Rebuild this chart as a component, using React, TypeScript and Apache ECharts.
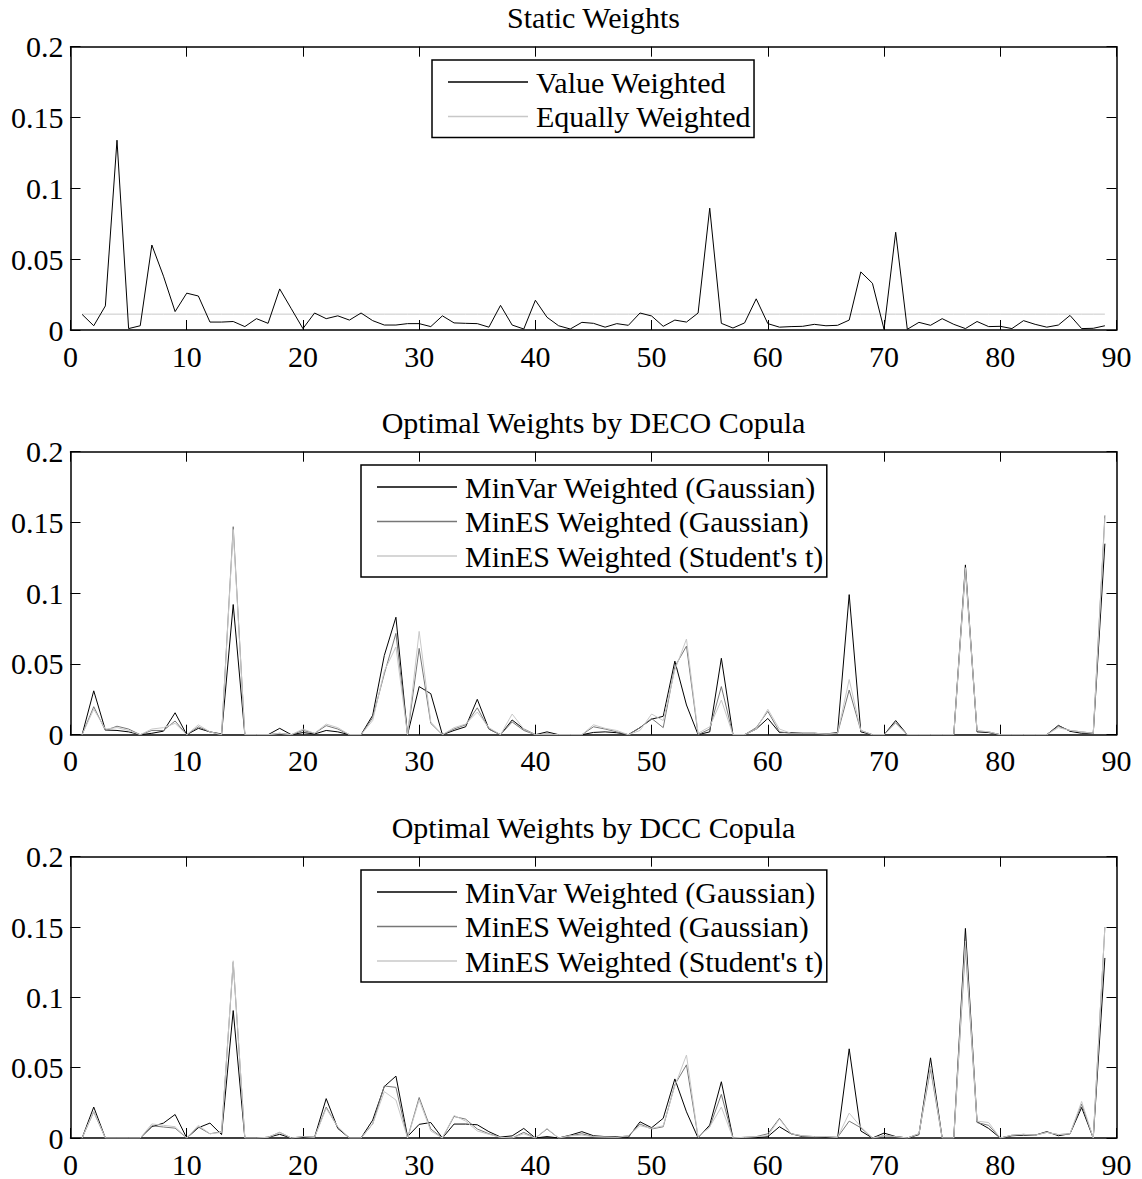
import React, { useEffect, useRef } from "react";
import * as echarts from "echarts";

// asset index 1..89
const assets: number[] = Array.from({ length: 89 }, (_, i) => i + 1);

const xTickInterval = 10;
const yTickInterval = 0.05;

const titles = ["Static Weights", "Optimal Weights by DECO Copula", "Optimal Weights by DCC Copula"];

const staticNames = ["Value Weighted", "Equally Weighted"];
const optNames = ["MinVar Weighted (Gaussian)", "MinES Weighted (Gaussian)", "MinES Weighted (Student's t)"];

const valueWeighted = [
  0.011, 0.003, 0.017, 0.134, 0.001, 0.003, 0.060, 0.038, 0.013, 0.026,
  0.024, 0.0056, 0.0056, 0.006, 0.0024, 0.008, 0.0047, 0.029, 0.015, 0.001,
  0.012, 0.008, 0.010, 0.007, 0.012, 0.0066, 0.0035, 0.0035, 0.0045, 0.0045,
  0.0024, 0.010, 0.005, 0.0047, 0.0045, 0.002, 0.0174, 0.0035, 0.0007, 0.021,
  0.009, 0.003, 0.0007, 0.0054, 0.0047, 0.002, 0.0045, 0.0033, 0.012, 0.0099,
  0.0026, 0.007, 0.0056, 0.012, 0.086, 0.0047, 0.0014, 0.005, 0.022, 0.0045,
  0.002, 0.0024, 0.0026, 0.004, 0.003, 0.0033, 0.007, 0.041, 0.033, 0.0005,
  0.069, 0.0005, 0.0054, 0.0033, 0.008, 0.004, 0.001, 0.006, 0.0024, 0.0026,
  0.001, 0.0066, 0.004, 0.002, 0.0035, 0.0103, 0.001, 0.0012, 0.003,
];

const equallyWeighted = [
  0.0112, 0.0112, 0.0112, 0.0112, 0.0112, 0.0112, 0.0112, 0.0112, 0.0112, 0.0112,
  0.0112, 0.0112, 0.0112, 0.0112, 0.0112, 0.0112, 0.0112, 0.0112, 0.0112, 0.0112,
  0.0112, 0.0112, 0.0112, 0.0112, 0.0112, 0.0112, 0.0112, 0.0112, 0.0112, 0.0112,
  0.0112, 0.0112, 0.0112, 0.0112, 0.0112, 0.0112, 0.0112, 0.0112, 0.0112, 0.0112,
  0.0112, 0.0112, 0.0112, 0.0112, 0.0112, 0.0112, 0.0112, 0.0112, 0.0112, 0.0112,
  0.0112, 0.0112, 0.0112, 0.0112, 0.0112, 0.0112, 0.0112, 0.0112, 0.0112, 0.0112,
  0.0112, 0.0112, 0.0112, 0.0112, 0.0112, 0.0112, 0.0112, 0.0112, 0.0112, 0.0112,
  0.0112, 0.0112, 0.0112, 0.0112, 0.0112, 0.0112, 0.0112, 0.0112, 0.0112, 0.0112,
  0.0112, 0.0112, 0.0112, 0.0112, 0.0112, 0.0112, 0.0112, 0.0112, 0.0112,
];

const decoMinVarGauss = [
  0, 0.031, 0.0033, 0.003, 0.002, 0, 0.001, 0.0025, 0.0155, 0,
  0.0045, 0.002, 0.0005, 0.092, 0, 0, 0, 0.0045, 0, 0.0015,
  0.0005, 0.003, 0.002, 0, 0, 0.0137, 0.056, 0.083, 0, 0.034,
  0.029, 0, 0.003, 0.0056, 0.025, 0.004, 0, 0.0104, 0.004, 0,
  0.002, 0, 0, 0, 0.0016, 0.002, 0.0014, 0, 0.005, 0.011,
  0.013, 0.052, 0.021, 0, 0.002, 0.054, 0, 0, 0.004, 0.0115,
  0.0015, 0.0015, 0.001, 0.001, 0.0005, 0.0015, 0.099, 0.002, 0, 0,
  0.010, 0, 0, 0, 0, 0, 0.120, 0.002, 0.0015, 0,
  0, 0, 0, 0, 0.0066, 0.0024, 0.001, 0.001, 0.135,
];

const decoMinESGauss = [
  0, 0.0198, 0.003, 0.006, 0.004, 0, 0.003, 0.003, 0.0097, 0,
  0.0056, 0.002, 0, 0.147, 0, 0, 0, 0.001, 0, 0.003,
  0.001, 0.0064, 0.004, 0, 0, 0.012, 0.043, 0.0716, 0, 0.061,
  0.008, 0, 0.004, 0.007, 0.019, 0.004, 0, 0.009, 0.003, 0,
  0.0005, 0, 0, 0, 0.0056, 0.004, 0.002, 0, 0.005, 0.0115,
  0.005, 0.048, 0.0626, 0, 0.004, 0.034, 0, 0, 0.005, 0.0165,
  0.002, 0.001, 0.001, 0.001, 0.0005, 0.001, 0.0316, 0.003, 0, 0,
  0.0085, 0, 0, 0, 0, 0, 0.116, 0.0026, 0.002, 0,
  0, 0, 0, 0, 0.006, 0.003, 0.002, 0.001, 0.155,
];

const decoMinESStudent = [
  0, 0.018, 0.004, 0.005, 0.003, 0, 0.004, 0.005, 0.008, 0,
  0.007, 0.002, 0, 0.145, 0, 0, 0, 0.001, 0, 0.004,
  0.001, 0.0075, 0.005, 0, 0, 0.010, 0.045, 0.062, 0, 0.073,
  0.009, 0, 0.005, 0.0075, 0.016, 0.005, 0, 0.0146, 0.004, 0,
  0, 0, 0, 0, 0.007, 0.0045, 0.003, 0, 0.003, 0.0146,
  0.010, 0.0457, 0.0676, 0.001, 0.0056, 0.0245, 0, 0, 0.004, 0.018,
  0.004, 0.001, 0.001, 0.001, 0.0005, 0.001, 0.039, 0.003, 0, 0,
  0.008, 0, 0, 0, 0, 0, 0.118, 0.003, 0.002, 0,
  0, 0, 0, 0, 0.005, 0.003, 0.002, 0.001, 0.153,
];

const dccMinVarGauss = [
  0, 0.022, 0, 0, 0, 0, 0.008, 0.0106, 0.0167, 0,
  0.0073, 0.0106, 0.0024, 0.0906, 0, 0, 0.0005, 0.0026, 0, 0.0005,
  0.0005, 0.028, 0.0068, 0, 0, 0.0127, 0.0366, 0.044, 0.001, 0.0097,
  0.011, 0, 0.0099, 0.0099, 0.0094, 0.0045, 0.0007, 0.0015, 0.0068, 0,
  0.001, 0, 0.002, 0.0045, 0.0016, 0.001, 0.001, 0.0005, 0.0115, 0.0073,
  0.014, 0.042, 0.0186, 0, 0.0092, 0.040, 0, 0.0002, 0.0002, 0.001,
  0.008, 0.003, 0.001, 0.001, 0.0005, 0, 0.0634, 0.005, 0, 0.0035,
  0.001, 0, 0.0024, 0.057, 0, 0, 0.149, 0.0115, 0.0068, 0,
  0.0016, 0.002, 0.002, 0.0045, 0.0016, 0.003, 0.0217, 0, 0.128,
];

const dccMinESGauss = [
  0, 0.0186, 0, 0, 0, 0, 0.0087, 0.0078, 0.007, 0,
  0.0078, 0.003, 0.0045, 0.125, 0, 0, 0.0005, 0.004, 0, 0.001,
  0.0005, 0.022, 0.0075, 0, 0, 0.010, 0.037, 0.036, 0, 0.0288,
  0.0064, 0, 0.0153, 0.0134, 0.0064, 0.003, 0.0005, 0, 0.004, 0,
  0.0064, 0, 0.0016, 0.003, 0.001, 0.0007, 0.0005, 0.0016, 0.0099, 0.0064,
  0.008, 0.038, 0.052, 0.0005, 0.008, 0.031, 0, 0.0005, 0.001, 0.003,
  0.014, 0.003, 0.0015, 0.001, 0.001, 0.0005, 0.012, 0.0073, 0, 0.0016,
  0.001, 0, 0.003, 0.049, 0, 0, 0.136, 0.011, 0.009, 0,
  0.002, 0.0026, 0.002, 0.004, 0.0024, 0.003, 0.024, 0, 0.150,
];

const dccMinESStudent = [
  0, 0.019, 0, 0, 0, 0, 0.010, 0.009, 0.008, 0,
  0.009, 0.003, 0.004, 0.126, 0, 0, 0.0005, 0.004, 0, 0.001,
  0.0005, 0.021, 0.008, 0, 0, 0.010, 0.033, 0.027, 0, 0.027,
  0.005, 0, 0.016, 0.012, 0.005, 0.0026, 0.0005, 0, 0.003, 0,
  0.0068, 0, 0.0016, 0.002, 0.001, 0.0007, 0.0005, 0.0016, 0.0087, 0.0068,
  0.0087, 0.037, 0.059, 0.0005, 0.008, 0.022, 0, 0.0005, 0.001, 0.0016,
  0.0134, 0.003, 0.0015, 0.001, 0.001, 0.0005, 0.0177, 0.008, 0, 0.0016,
  0.001, 0, 0.003, 0.051, 0, 0, 0.140, 0.012, 0.011, 0,
  0.002, 0.0026, 0.002, 0.004, 0.0024, 0.003, 0.026, 0, 0.150,
];

const BLACK = "#000000";
const DARK = "#777777";
const LIGHT = "#c8c8c8";
const FONT = '"Liberation Serif", "Times New Roman", serif';
const FS = 30;

export default function App() {
  const ref = useRef<HTMLDivElement>(null);

  useEffect(() => {
    if (!ref.current) return;
    const chart = echarts.init(ref.current, null, { renderer: "svg" });

    const gridLeft = 70.5;
    const gridWidth = 1046;
    const gridDefs = [
      { top: 46.7, height: 283.3 },
      { top: 451.7, height: 283 },
      { top: 856.7, height: 282.3 },
    ];

    const axisLine = { show: true, onZero: false, lineStyle: { color: BLACK, width: 1.5 } };
    const axisTick = { show: true, inside: true, length: 10, lineStyle: { color: BLACK, width: 1 } };

    const xAxes: any[] = [];
    const yAxes: any[] = [];
    gridDefs.forEach((_, k) => {
      xAxes.push({
        type: "value", gridIndex: k, min: 0, max: 90, interval: xTickInterval, position: "bottom",
        axisLine, axisTick, splitLine: { show: false },
        axisLabel: { show: true, color: BLACK, fontFamily: FONT, fontSize: FS, margin: 11 },
      });
      xAxes.push({
        type: "value", gridIndex: k, min: 0, max: 90, interval: xTickInterval, position: "top",
        axisLine, axisTick, splitLine: { show: false }, axisLabel: { show: false },
      });
      yAxes.push({
        type: "value", gridIndex: k, min: 0, max: 0.2, interval: yTickInterval, position: "left",
        axisLine, axisTick, splitLine: { show: false },
        axisLabel: {
          show: true, color: BLACK, fontFamily: FONT, fontSize: FS, margin: 7,
          formatter: (v: number) => String(parseFloat(v.toFixed(3))),
        },
      });
      yAxes.push({
        type: "value", gridIndex: k, min: 0, max: 0.2, interval: yTickInterval, position: "right",
        axisLine, axisTick, splitLine: { show: false }, axisLabel: { show: false },
      });
    });

    const mk = (name: string, values: number[], color: string, k: number, z: number) => ({
      type: "line",
      name,
      xAxisIndex: 2 * k,
      yAxisIndex: 2 * k,
      data: assets.map((x, i) => [x, values[i]]),
      symbol: "none",
      showSymbol: false,
      color,
      itemStyle: { color },
      lineStyle: { color, width: 1 },
      z,
      silent: true,
    });

    const series = [
      mk(staticNames[0], valueWeighted, BLACK, 0, 3),
      mk(staticNames[1], equallyWeighted, LIGHT, 0, 2),
      mk(optNames[0], decoMinVarGauss, BLACK, 1, 2),
      mk(optNames[1], decoMinESGauss, DARK, 1, 3),
      mk(optNames[2], decoMinESStudent, LIGHT, 1, 4),
      mk(optNames[0], dccMinVarGauss, BLACK, 2, 2),
      mk(optNames[1], dccMinESGauss, DARK, 2, 3),
      mk(optNames[2], dccMinESStudent, LIGHT, 2, 4),
    ];

    const legendBase = {
      orient: "vertical",
      icon: "rect",
      itemWidth: 80,
      itemHeight: 1.5,
      itemGap: 0.5,
      padding: [5, 3, 4, 16],
      borderColor: BLACK,
      borderWidth: 1.5,
      borderRadius: 0,
      backgroundColor: "#ffffff",
      selectedMode: false,
      itemStyle: { borderWidth: 0 },
      textStyle: { color: BLACK, fontFamily: FONT, fontSize: FS, lineHeight: 34, padding: [0, 0, 0, 3] },
      z: 10,
    };

    const titleGraphics = titles.map((t, k) => ({
      type: "text",
      x: gridLeft + gridWidth / 2,
      y: gridDefs[k].top - 29.5,
      style: {
        text: t,
        fill: BLACK,
        fontFamily: FONT,
        fontSize: FS,
        align: "center",
        verticalAlign: "middle",
        textAlign: "center",
        textVerticalAlign: "middle",
      },
      silent: true,
    }));

    chart.setOption({
      animation: false,
      backgroundColor: "#ffffff",
      grid: gridDefs.map((g) => ({ left: gridLeft, width: gridWidth, top: g.top, height: g.height, containLabel: false })),
      xAxis: xAxes,
      yAxis: yAxes,
      legend: [
        { ...legendBase, data: staticNames, left: 432, top: 60 },
        { ...legendBase, data: optNames, left: 361, top: 465 },
        { ...legendBase, data: optNames, left: 361, top: 870 },
      ],
      graphic: titleGraphics,
      series,
    });

    return () => chart.dispose();
  }, []);

  return (
    <div
      ref={ref}
      style={{ position: "absolute", left: 0, top: 0, width: 1142, height: 1179, background: "#fff" }}
    />
  );
}
